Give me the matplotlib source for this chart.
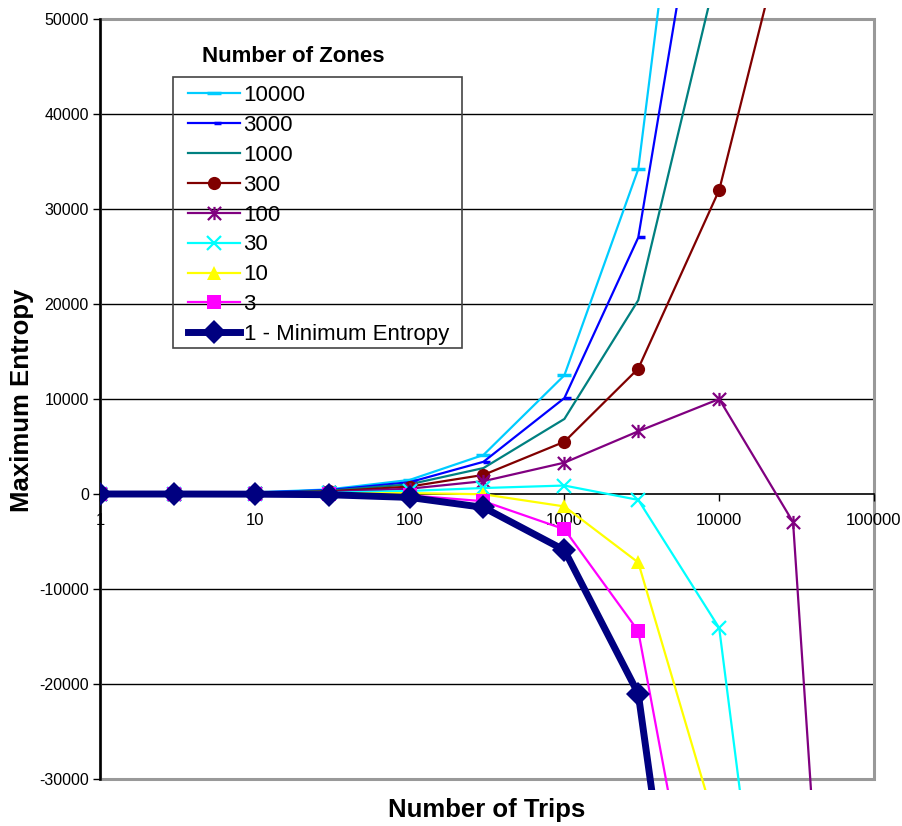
import matplotlib
matplotlib.use("Agg")
import matplotlib.pyplot as plt
from matplotlib.path import Path
from matplotlib.patches import Rectangle
from matplotlib.ticker import FixedLocator, FixedFormatter

plt.rcParams['font.family'] = ['Liberation Sans', 'DejaVu Sans']
plt.rcParams['axes.unicode_minus'] = False

# Number of trips (x, log scale)
trips = [1, 3, 10, 30, 100, 300, 1000, 3000, 10000, 30000, 100000]

# Maximum entropy for each number of zones
zones_10000 = [20, 50, 170, 480, 1480, 4110, 12500, 34200, 102100, 273300, 790800]
zones_3000 = [20, 50, 150, 410, 1240, 3390, 10100, 27000, 78000, 201100, 550000]
zones_1000 = [10, 40, 120, 340, 1020, 2730, 7900, 20400, 56000, 135200, 330300]
zones_300 = [10, 30, 100, 270, 780, 2010, 5500, 13200, 32000, 63000, 89500]
zones_100 = [10, 30, 80, 200, 560, 1350, 3300, 6600, 10000, -2960, -130300]
zones_30 = [10, 20, 50, 130, 320, 630, 890, -620, -14100, -75200, -371100]
zones_10 = [0, 10, 30, 60, 100, -30, -1310, -7210, -36100, -141100, -590800]
zones_3 = [0, 0, 10, -10, -140, -760, -3710, -14430, -60100, -213400, -831600]
zones_1 = [0, -2, -15, -75, -360, -1410, -5910, -21020, -82100, -279300, -1051300]

series_values = [zones_10000, zones_3000, zones_1000, zones_300, zones_100,
                 zones_30, zones_10, zones_3, zones_1]
series_labels = ['10000', '3000', '1000', '300', '100', '30', '10', '3',
                 '1 - Minimum Entropy']

y_ticks = [-30000, -20000, -10000, 0, 10000, 20000, 30000, 40000, 50000]
x_ticks = [1, 10, 100, 1000, 10000, 100000]
x_tick_labels = ['1', '10', '100', '1000', '10000', '100000']

# Excel-style asterisk marker: an X crossed by a vertical bar
asterisk = Path([(-0.5, -0.5), (0.5, 0.5), (-0.5, 0.5), (0.5, -0.5), (0, -0.5), (0, 0.5)],
                [Path.MOVETO, Path.LINETO, Path.MOVETO, Path.LINETO, Path.MOVETO, Path.LINETO])

styles = [
    dict(color='#00CCFF', marker='_', ms=10, mew=2.5, lw=1.6),
    dict(color='#0000FF', marker=1, ms=5, mew=2.5, lw=1.6),
    dict(color='#008080', marker='None', lw=1.6),
    dict(color='#800000', marker='o', ms=9.5, mew=0, lw=1.6),
    dict(color='#800080', marker=asterisk, ms=9.5, mew=1.6, mfc='none', lw=1.6),
    dict(color='#00FFFF', marker='x', ms=10, mew=1.6, lw=1.6),
    dict(color='#FFFF00', marker='^', ms=10.5, mew=0, lw=1.6),
    dict(color='#FF00FF', marker='s', ms=9.5, mew=0, lw=1.6),
    dict(color='#000080', marker='D', ms=12, mew=0, lw=5),
]

W, H = 902, 826
fig = plt.figure(figsize=(W / 100, H / 100), dpi=100)
ax = fig.add_axes([100 / W, 1 - 779 / H, 774 / W, 760 / H])

ax.set_xscale('log')
ax.set_xlim(1, 100000)
ax.set_ylim(-30000, 50000)

# Let the lines run a little past the top and bottom of the plot area
clip_rect = Rectangle((0, -0.015), 1, 1.03, transform=ax.transAxes, visible=False)
ax.add_patch(clip_rect)

for vals, lab, st in zip(series_values, series_labels, styles):
    line, = ax.plot(trips, vals, label=lab, solid_joinstyle='miter', **st)
    line.set_clip_path(clip_rect)

# Grid and frame
for yv in y_ticks[1:-1]:
    if yv != 0:
        ax.axhline(yv, color='black', lw=1.0, zorder=0.5)
ax.add_patch(Rectangle((0, 0), 1, 1, transform=ax.transAxes, fill=False,
                       edgecolor='#999999', lw=2.2, zorder=0.6, clip_on=False))

for s in ['top', 'right']:
    ax.spines[s].set_visible(False)
ax.spines['bottom'].set_position(('data', 0))
ax.spines['bottom'].set_color('black')
ax.spines['bottom'].set_linewidth(1.2)
ax.spines['bottom'].set_zorder(0.7)
ax.spines['left'].set_color('black')
ax.spines['left'].set_linewidth(1.8)
ax.spines['left'].set_zorder(0.8)

ax.xaxis.set_major_locator(FixedLocator(x_ticks))
ax.xaxis.set_major_formatter(FixedFormatter(x_tick_labels))
ax.xaxis.set_minor_locator(FixedLocator([]))
ax.set_yticks(y_ticks)
ax.set_yticklabels([str(v) for v in y_ticks])

ax.tick_params(axis='x', direction='out', length=5, width=1, labelsize=12, pad=9,
               colors='black')
ax.tick_params(axis='y', direction='out', length=5, width=1, labelsize=11.5, pad=3,
               colors='black')

fig.text(22 / W, 1 - 400 / H, 'Maximum Entropy', rotation=90, ha='center', va='center',
         fontsize=18.5, fontweight='bold')
fig.text(487 / W, 1 - 810 / H, 'Number of Trips', ha='center', va='center',
         fontsize=18.5, fontweight='bold')

# Legend with its own frame and title
leg = ax.legend(loc='upper left', bbox_to_anchor=(188 / W, 1 - 85 / H),
                bbox_transform=fig.transFigure, frameon=False, fontsize=16,
                borderpad=0, borderaxespad=0, handlelength=2.35,
                handletextpad=0.15, labelspacing=0.4, numpoints=1)
fig.add_artist(Rectangle((173 / W, 1 - 348 / H), 289 / W, 271 / H,
                         transform=fig.transFigure, fill=False,
                         edgecolor='#444444', lw=1.2, zorder=3))
fig.text(293 / W, 1 - 57 / H, 'Number of Zones', ha='center', va='center',
         fontsize=16, fontweight='bold')

fig.savefig('out.png', dpi=100)
